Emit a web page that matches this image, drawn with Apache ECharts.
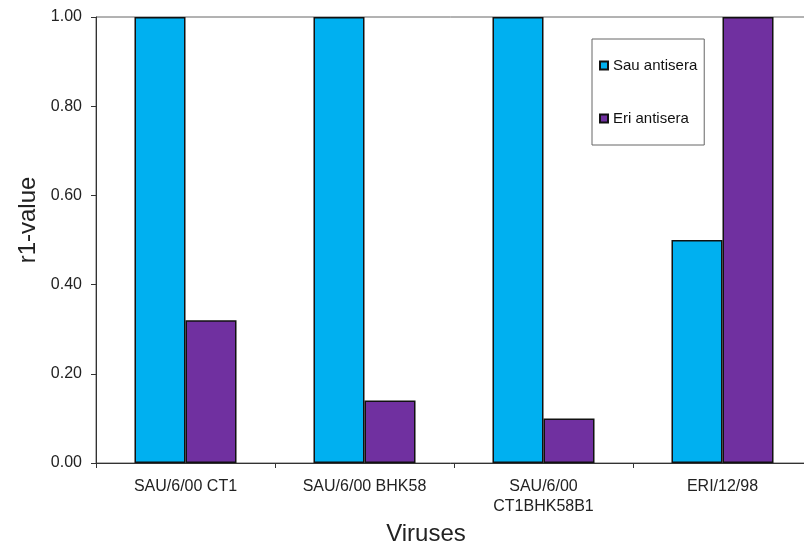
<!DOCTYPE html>
<html><head><meta charset="utf-8">
<script src="https://cdn.jsdelivr.net/npm/echarts@6/dist/echarts.min.js"></script>
<style>html,body{margin:0;padding:0;background:#fff}#c{width:804px;height:544px}</style>
</head><body><div id="c"></div>
<script>
var categories = ['SAU/6/00 CT1', 'SAU/6/00 BHK58', 'SAU/6/00\nCT1BHK58B1', 'ERI/12/98'];
var sauAntisera = [1.00, 1.00, 1.00, 0.50];
var eriAntisera = [0.32, 0.14, 0.10, 1.00];
var seriesNames = ['Sau antisera', 'Eri antisera'];

var chart = echarts.init(document.getElementById('c'), null, {renderer: 'canvas'});
var font = '"Liberation Sans", Arial, sans-serif';
chart.setOption({
  animation: false,
  backgroundColor: '#fff',
  grid: {left: 96, width: 716, top: 17, height: 446, containLabel: false, outerBoundsMode: 'none',
         show: true, borderColor: '#666', borderWidth: 1},
  legend: {
    orient: 'vertical', left: 592, top: 39, width: 112,
    padding: [19, 7, 19, 7], itemGap: 38, itemWidth: 8, itemHeight: 8,
    borderColor: '#666', borderWidth: 1, backgroundColor: '#fff',
    textStyle: {fontFamily: font, fontSize: 15, color: '#111'},
    data: [{name: seriesNames[0], icon: 'rect'}, {name: seriesNames[1], icon: 'rect'}]
  },
  xAxis: {
    type: 'category', data: categories,
    name: 'Viruses', nameLocation: 'middle', nameGap: 58,
    nameTextStyle: {fontFamily: font, fontSize: 24, color: '#222', padding: [0, 56, 0, 0]},
    axisLine: {lineStyle: {color: '#333', width: 1}},
    axisTick: {show: true, length: 5, lineStyle: {color: '#333'}},
    axisLabel: {fontFamily: font, fontSize: 16, color: '#222', margin: 14, lineHeight: 20, interval: 0}
  },
  yAxis: {
    type: 'value', min: 0, max: 1, interval: 0.2,
    name: 'r1-value', nameLocation: 'middle', nameGap: 56,
    nameTextStyle: {fontFamily: font, fontSize: 24, color: '#222', padding: [0, 0, 0, 40]},
    axisLine: {show: true, lineStyle: {color: '#333', width: 1}},
    axisTick: {show: true, length: 5, lineStyle: {color: '#333'}},
    splitLine: {show: false},
    axisLabel: {fontFamily: font, fontSize: 16, color: '#222', margin: 14,
      formatter: function (v) { return v.toFixed(2); }}
  },
  series: [
    {name: seriesNames[0], type: 'bar', data: sauAntisera, barGap: '0%', barCategoryGap: '43%',
     itemStyle: {color: '#00B0F0', borderColor: '#111', borderWidth: 1.5}},
    {name: seriesNames[1], type: 'bar', data: eriAntisera, barGap: '0%', barCategoryGap: '43%',
     itemStyle: {color: '#7030A0', borderColor: '#111', borderWidth: 1.5}}
  ]
});
</script></body></html>
